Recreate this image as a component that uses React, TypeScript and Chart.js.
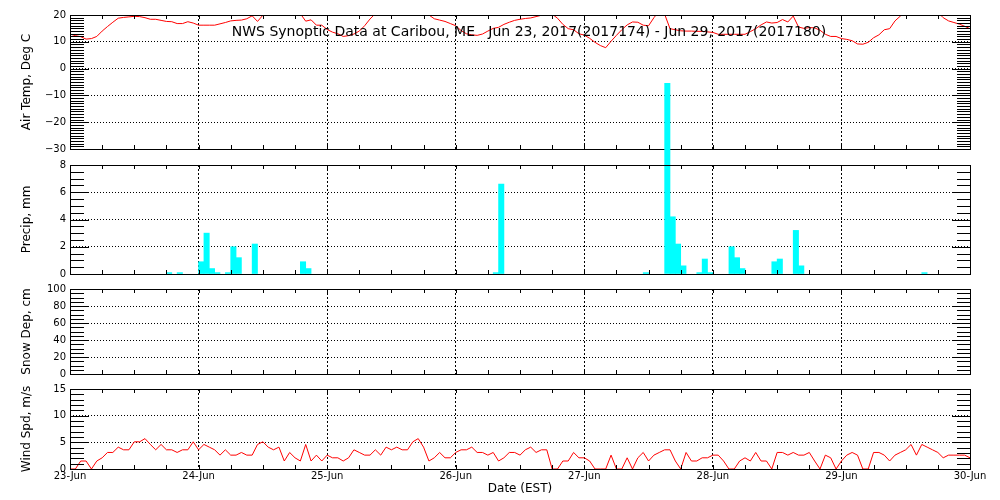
import React, { useEffect, useRef } from 'react';
import { Chart, registerables } from 'chart.js';

Chart.register(...registerables);

// ---------------- data ----------------
const dayLabels = ['23-Jun', '24-Jun', '25-Jun', '26-Jun', '27-Jun', '28-Jun', '29-Jun', '30-Jun'];
const titleText = 'NWS Synoptic Data at Caribou, ME   Jun 23, 2017(2017174) - Jun 29, 2017(2017180)';

// hourly air temperature (deg C), hour 0 = 23-Jun 00:00
const airTemp = [
  12.9, 12.3, 11.9, 11.0, 11.2, 12.0, 14.0, 15.7, 17.3, 18.8, 19.1, 19.3, 19.5, 19.4, 19.0, 18.4, 18.4, 18.0, 17.6, 17.5, 16.8, 16.8, 17.5, 17.0,
  16.2, 16.2, 16.2, 16.2, 16.7, 17.2, 17.8, 18.0, 18.1, 18.6, 19.7, 17.6, 19.9, 21.0, 22.0, 23.0, 23.5, 23.0, 22.0, 20.5, 17.7, 18.2, 16.2, 16.2,
  14.6, 13.6, 13.0, 12.0, 12.3, 12.9, 14.0, 16.0, 18.5, 20.5, 22.0, 23.5, 24.5, 25.0, 25.5, 25.0, 24.0, 23.0, 21.5, 20.0, 18.6, 18.1, 17.6, 16.8,
  16.0, 14.2, 13.0, 12.6, 12.4, 12.9, 14.0, 15.0, 15.4, 16.5, 17.3, 18.0, 18.4, 18.7, 18.9, 19.4, 19.9, 21.0, 20.3, 18.8, 16.5, 14.9, 14.5, 13.0,
  12.5, 11.3, 9.8, 8.6, 7.8, 10.2, 12.4, 14.5, 16.3, 17.4, 17.3, 16.2, 16.0, 19.0, 21.5, 20.3, 14.9, 14.5, 14.1, 14.0, 14.0, 13.9, 13.9, 13.7,
  13.5, 12.8, 12.8, 12.8, 12.8, 12.8, 12.8, 13.8, 14.9, 16.3, 17.4, 17.0, 17.2, 18.3, 17.4, 19.6, 15.5, 15.0, 15.3, 15.2, 14.3, 12.8, 12.0, 12.0,
  11.2, 10.9, 10.4, 9.2, 9.1, 9.8, 11.5, 12.6, 14.5, 14.9, 17.8, 19.6, 21.5, 23.0, 24.0, 25.0, 24.5, 23.0, 21.0, 19.0, 17.8, 17.2, 16.6, 15.8, 14.9,
];

// hourly precipitation (mm), only hours with rain (hour index = start of hour)
const precipHours = [18, 20, 24, 25, 26, 27, 29, 30, 31, 34, 43, 44, 79, 80, 107, 111, 112, 113, 114, 117, 118, 119, 123, 124, 125, 131, 132, 135, 136, 159];
const precipMm = [0.1, 0.1, 0.9, 3.0, 0.4, 0.1, 0.1, 2.0, 1.2, 2.2, 0.9, 0.4, 0.1, 6.6, 0.1, 14.0, 4.2, 2.2, 0.6, 0.1, 1.1, 0.1, 2.0, 1.2, 0.4, 0.9, 1.1, 3.2, 0.6, 0.1];

// snow depth (cm): no observations in this period
const snowDepth: number[] = [];

// hourly wind speed (m/s)
const windSpd = [
  0, 0, 1.5, 1.5, 0, 1.5, 2.1, 3.1, 3.1, 4.1, 3.6, 3.6, 5.1, 5.1, 5.7, 4.6, 3.6, 4.6, 3.6, 3.6, 3.1, 3.6, 3.6, 5.1,
  3.6, 4.6, 4.1, 3.6, 2.6, 3.6, 2.6, 2.6, 3.1, 2.6, 2.6, 4.6, 5.1, 4.1, 3.6, 4.1, 1.5, 3.1, 2.1, 1.5, 4.6, 1.5, 2.6, 1.5,
  2.6, 2.1, 2.1, 1.5, 2.1, 3.6, 3.1, 2.6, 2.6, 3.6, 2.6, 4.1, 3.6, 4.1, 3.6, 3.6, 5.1, 5.7, 4.1, 1.5, 2.1, 3.1, 2.1, 2.1,
  3.1, 3.6, 3.6, 4.1, 3.1, 3.1, 2.6, 3.1, 1.5, 2.1, 3.1, 3.1, 2.6, 3.6, 4.1, 3.1, 3.6, 3.6, 0, 0, 1.5, 1.5, 3.1, 2.1,
  2.1, 1.5, 0, 0, 0, 2.6, 0, 0, 2.1, 0, 2.1, 3.1, 1.5, 2.6, 3.1, 3.6, 3.6, 1.5, 0, 3.1, 1.5, 1.5, 2.1, 2.1,
  2.6, 2.6, 1.5, 0, 0, 1.5, 2.1, 1.5, 3.1, 1.5, 1.5, 0, 3.1, 3.1, 2.6, 3.1, 2.6, 2.6, 3.1, 1.5, 0, 2.6, 2.1, 0,
  1.5, 2.6, 3.1, 2.6, 0, 0, 3.1, 3.1, 2.6, 1.5, 2.6, 3.1, 3.6, 4.6, 2.6, 4.6, 4.1, 3.6, 3.1, 2.1, 2.6, 2.6, 2.6, 2.6, 2.1,
];

// ---------------- layout / style ----------------
const FONT = 'DejaVu Sans';
const W = 1000;
const H = 500;
const HOURS = 168;

type Panel = {
  top: number;
  bottom: number;
  min: number;
  max: number;
  major: number;
  minor: number;
  label: string;
  showX: boolean;
};

const panels: Panel[] = [
  { top: 15, bottom: 149, min: -30, max: 20, major: 10, minor: 1, label: 'Air Temp, Deg C', showX: false },
  { top: 165, bottom: 274, min: 0, max: 8, major: 2, minor: 0.5, label: 'Precip, mm', showX: false },
  { top: 289, bottom: 374, min: 0, max: 100, major: 20, minor: 5, label: 'Snow Dep, cm', showX: false },
  { top: 389, bottom: 469, min: 0, max: 15, major: 5, minor: 1, label: 'Wind Spd, m/s', showX: true },
];

const X_AXIS_H = 31;

function framePlugin(p: Panel) {
  return {
    id: 'frameTicks',
    afterDraw(chart: any) {
      const { ctx, chartArea: a, scales } = chart;
      const ys = scales.y;
      const xs = scales.x;
      const L = Math.round(a.left);
      const R = Math.round(a.right);
      const T = Math.round(a.top);
      const B = Math.round(a.bottom);
      ctx.save();
      ctx.fillStyle = '#000';
      const n = Math.round((p.max - p.min) / p.minor);
      for (let i = 0; i <= n; i++) {
        const v = p.min + i * p.minor;
        const py = Math.round(ys.getPixelForValue(v));
        const r = v / p.major;
        const isMajor = Math.abs(r - Math.round(r)) < 1e-6;
        const len = isMajor ? 19 : 14;
        ctx.fillRect(L, py, len, 1);
        ctx.fillRect(R - len + 1, py, len, 1);
      }
      for (let h = 0; h <= HOURS; h += 6) {
        const px = Math.round(xs.getPixelForValue(h));
        ctx.fillRect(px, B - 4, 1, 4);
        ctx.fillRect(px, T, 1, 4);
      }
      // frame
      ctx.fillRect(L, T, R - L + 1, 1);
      ctx.fillRect(L, B, R - L + 1, 1);
      ctx.fillRect(L, T, 1, B - T + 1);
      ctx.fillRect(R, T, 1, B - T + 1);
      ctx.restore();
    },
  };
}

const captionPlugin = {
  id: 'caption',
  afterDatasetsDraw(chart: any) {
    const { ctx } = chart;
    ctx.save();
    ctx.fillStyle = '#000';
    ctx.font = `14px "${FONT}"`;
    ctx.textAlign = 'center';
    ctx.textBaseline = 'alphabetic';
    ctx.fillText(titleText, 529, 36);
    ctx.restore();
  },
};

function fmtTick(v: number) {
  return v < 0 ? '\u2212' + Math.abs(v) : String(v);
}

function buildOptions(p: Panel): any {
  const xh = p.showX ? X_AXIS_H : 0;
  return {
    responsive: false,
    animation: false,
    events: [],
    layout: { padding: { left: 0, right: W - 970, top: p.top, bottom: H - p.bottom - xh } },
    plugins: { legend: { display: false }, tooltip: { enabled: false }, title: { display: false } },
    scales: {
      x: {
        type: 'linear',
        min: 0,
        max: HOURS,
        offset: false,
        afterFit: (s: any) => {
          s.height = xh;
        },
        ticks: {
          display: p.showX,
          stepSize: 24,
          autoSkip: false,
          maxRotation: 0,
          padding: 1,
          color: '#000',
          font: { family: FONT, size: 10 },
          callback: (v: number) => dayLabels[Math.round(v / 24)],
        },
        grid: { color: '#000', lineWidth: 1, drawTicks: false, offset: false },
        border: { display: false, dash: [2, 2] },
        title: {
          display: p.showX,
          text: 'Date (EST)',
          color: '#000',
          font: { family: FONT, size: 12 },
          padding: { top: 0, bottom: 4 },
        },
      },
      y: {
        type: 'linear',
        min: p.min,
        max: p.max,
        afterFit: (s: any) => {
          s.width = 70;
        },
        ticks: {
          stepSize: p.major,
          padding: 4,
          color: '#000',
          font: { family: FONT, size: 10 },
          callback: (v: number) => fmtTick(v),
        },
        grid: { color: '#000', lineWidth: 1, drawTicks: false },
        border: { display: false, dash: [1, 2] },
        title: {
          display: true,
          text: p.label,
          color: '#000',
          font: { family: FONT, size: 12 },
          padding: { top: 20, bottom: 0 },
        },
      },
    },
  };
}

export default function App() {
  const r0 = useRef<HTMLCanvasElement>(null);
  const r1 = useRef<HTMLCanvasElement>(null);
  const r2 = useRef<HTMLCanvasElement>(null);
  const r3 = useRef<HTMLCanvasElement>(null);

  useEffect(() => {
    const charts: Chart[] = [];

    // Air temperature
    charts.push(
      new Chart(r0.current as HTMLCanvasElement, {
        type: 'line',
        data: {
          datasets: [
            {
              data: airTemp.map((v, i) => ({ x: i, y: v })),
              borderColor: '#ff0000',
              borderWidth: 1,
              pointRadius: 0,
              tension: 0,
            },
          ],
        },
        options: buildOptions(panels[0]),
        plugins: [framePlugin(panels[0]), captionPlugin],
      } as any)
    );

    // Precipitation
    charts.push(
      new Chart(r1.current as HTMLCanvasElement, {
        type: 'bar',
        data: {
          datasets: [
            {
              data: precipHours.map((h, i) => ({ x: h + 0.5, y: precipMm[i] })),
              backgroundColor: '#00ffff',
              borderWidth: 0,
              barPercentage: 1,
              categoryPercentage: 1,
              clip: false,
            },
          ],
        },
        options: buildOptions(panels[1]),
        plugins: [framePlugin(panels[1])],
      } as any)
    );

    // Snow depth
    charts.push(
      new Chart(r2.current as HTMLCanvasElement, {
        type: 'line',
        data: {
          datasets: [
            {
              data: snowDepth.map((v, i) => ({ x: i, y: v })),
              borderColor: '#ff0000',
              borderWidth: 1,
              pointRadius: 0,
            },
          ],
        },
        options: buildOptions(panels[2]),
        plugins: [framePlugin(panels[2])],
      } as any)
    );

    // Wind speed
    charts.push(
      new Chart(r3.current as HTMLCanvasElement, {
        type: 'line',
        data: {
          datasets: [
            {
              data: windSpd.map((v, i) => ({ x: i, y: v })),
              borderColor: '#ff0000',
              borderWidth: 1,
              pointRadius: 0,
              tension: 0,
            },
          ],
        },
        options: buildOptions(panels[3]),
        plugins: [framePlugin(panels[3])],
      } as any)
    );

    return () => {
      charts.forEach((c) => c.destroy());
    };
  }, []);

  const cs: React.CSSProperties = { position: 'absolute', left: 0, top: 0, width: W, height: H };
  return (
    <div style={{ position: 'absolute', left: 0, top: 0, width: W, height: H, background: '#fff' }}>
      <canvas ref={r0} width={W} height={H} style={cs} />
      <canvas ref={r1} width={W} height={H} style={cs} />
      <canvas ref={r2} width={W} height={H} style={cs} />
      <canvas ref={r3} width={W} height={H} style={cs} />
    </div>
  );
}
